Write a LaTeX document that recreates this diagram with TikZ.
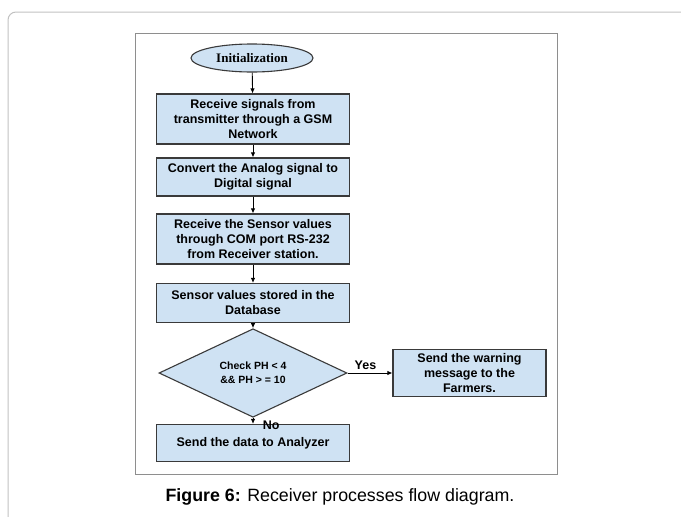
\documentclass[tikz,border=0pt]{standalone}
\usepackage{fontspec}
\setmainfont{Liberation Sans}
\newfontfamily\timesfont{Liberation Serif}
\usetikzlibrary{arrows.meta,positioning,shapes.geometric}
\definecolor{boxfill}{HTML}{CFE2F3}
\definecolor{boxline}{HTML}{3A3A3A}
\definecolor{framegray}{HTML}{8E8E8E}

\begin{document}
\begin{tikzpicture}[x=1pt,y=-1pt,
  procbox/.style={draw=boxline,fill=boxfill,line width=1.1pt,minimum width=193pt,
    align=center,inner sep=2pt,font=\fontsize{12.5}{15}\selectfont\bfseries},
  startnode/.style={ellipse,draw=boxline,fill=boxfill,line width=1.1pt,
    minimum width=122pt,minimum height=28pt,inner sep=0pt,
    font=\timesfont\fontsize{13}{15}\selectfont\bfseries},
  checknode/.style={diamond,draw=boxline,fill=boxfill,line width=1.1pt,
    minimum width=188pt,minimum height=66pt,inner sep=0pt,align=center,
    font=\fontsize{10.5}{14}\selectfont\bfseries},
  arr/.style={-{Latex[length=5pt,width=4.5pt]},line width=0.9pt},
  lbl/.style={font=\fontsize{12.5}{15}\selectfont\bfseries}]
  \useasboundingbox (0,0) rectangle (681,517);
  \begin{scope}
    \clip (0,0) rectangle (681,517);
    \draw[framegray!55,line width=1pt,rounded corners=8pt] (8,12) rectangle (720,560);
  \end{scope}
  \draw[framegray,line width=1pt] (135,33) rectangle (557,474);

  \node[startnode] (init) at (252,58) {Initialization};
  \node[procbox,minimum height=50pt] (recv) at (253,119) {Receive signals from\\transmitter through a GSM\\Network};
  \node[procbox,minimum height=38pt] (conv) at (253,177) {Convert the Analog signal to\\Digital signal};
  \node[procbox,minimum height=50pt] (sens) at (253,239) {Receive the Sensor values\\through COM port RS-232\\from Receiver station.};
  \node[procbox,minimum height=39pt] (store) at (253,303) {Sensor values stored in the\\Database};
  \node[checknode] (check) at (253,373) {Check PH < 4\\\&\& PH > = 10};
  \node[procbox,minimum width=153pt,minimum height=47pt] (warn) at (469.5,373) {Send the warning\\message to the\\Farmers.};
  \node[procbox,minimum height=37pt] (send) at (253,443) {Send the data to Analyzer};

  \draw[arr] (init) -- (recv);
  \draw[arr] (recv) -- (conv);
  \draw[arr] (conv) -- (sens);
  \draw[arr] (sens) -- (store);
  \draw[arr] (store) -- (check);
  \draw[arr] (check) -- node[lbl,above,pos=0.4] {Yes} (warn);
  \draw[arr] (check) -- node[lbl,anchor=north west,pos=0,xshift=6pt,yshift=1pt] {No} (send);

  \node[font=\fontsize{17.8}{20}\selectfont] (caption) at (340,497) {\textbf{Figure 6:} Receiver processes flow diagram.};
\end{tikzpicture}
\end{document}
